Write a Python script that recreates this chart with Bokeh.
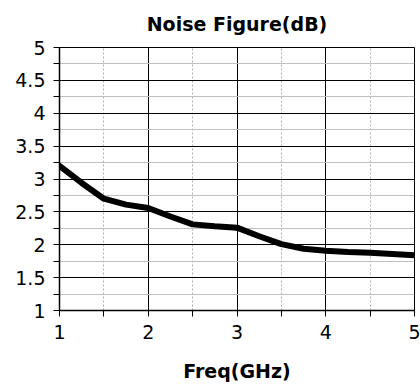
from bokeh.plotting import figure
from bokeh.models import FixedTicker
from bokeh.embed import file_html
from bokeh.resources import INLINE

freq_ghz = [1.0, 1.25, 1.5, 1.75, 2.0, 2.25, 2.5, 2.75, 3.0, 3.25, 3.5, 3.75, 4.0, 4.25, 4.5, 4.75, 5.0]
noise_figure_db = [3.20, 2.94, 2.70, 2.61, 2.56, 2.43, 2.31, 2.28, 2.26, 2.13, 2.01, 1.94, 1.91, 1.89, 1.88, 1.86, 1.84]

x_major = [1, 2, 3, 4, 5]
x_minor = [1.5, 2.5, 3.5, 4.5]
y_major = [1, 1.5, 2, 2.5, 3, 3.5, 4, 4.5, 5]
y_minor = [1.25, 1.75, 2.25, 2.75, 3.25, 3.75, 4.25, 4.75]

FONT = "DejaVu Sans"

p = figure(width=420, height=385, output_backend="svg", toolbar_location=None,
           x_range=(1, 5), y_range=(1, 5),
           min_border_left=59, min_border_right=6, min_border_top=47, min_border_bottom=75,
           title="Noise Figure(dB)")
p.title.align = "center"
p.title.vertical_align = "top"
p.title.text_font = FONT
p.title.text_font_style = "bold"
p.title.text_font_size = "19px"
p.title.text_color = "black"
p.title.standoff = 22

p.xaxis.ticker = FixedTicker(ticks=x_major, minor_ticks=x_minor)
p.yaxis.ticker = FixedTicker(ticks=y_major, minor_ticks=y_minor)
p.yaxis.major_label_overrides = {1: "1", 1.5: "1.5", 2: "2", 2.5: "2.5", 3: "3", 3.5: "3.5", 4: "4", 4.5: "4.5", 5: "5"}

for ax in (p.xaxis[0], p.yaxis[0]):
    ax.axis_line_color = "black"
    ax.axis_line_width = 1.5
    ax.major_tick_line_color = "black"
    ax.minor_tick_line_color = "black"
    ax.major_tick_out = 6
    ax.major_tick_in = 0
    ax.minor_tick_out = 6
    ax.minor_tick_in = 0
    ax.major_label_text_font = FONT
    ax.major_label_text_font_size = "19px"
    ax.major_label_text_color = "black"
p.yaxis.major_label_standoff = 8
p.xaxis.major_label_standoff = 8

p.xaxis.axis_label = "Freq(GHz)"
p.xaxis.axis_label_text_font = FONT
p.xaxis.axis_label_text_font_style = "bold"
p.xaxis.axis_label_text_font_size = "19px"
p.xaxis.axis_label_text_color = "black"
p.xaxis.axis_label_standoff = 18

p.xgrid.grid_line_color = "black"
p.xgrid.grid_line_width = 1
p.xgrid.minor_grid_line_color = "#b0b0b0"
p.xgrid.minor_grid_line_dash = "2 2"
p.ygrid.grid_line_color = "black"
p.ygrid.grid_line_width = 1
p.ygrid.minor_grid_line_color = "#c0c0c0"

p.outline_line_color = "black"
p.outline_line_width = 1

p.line(freq_ghz, noise_figure_db, line_color="black", line_width=6, line_join="round", line_cap="round")

open("out.html", "w").write(file_html(p, INLINE))
